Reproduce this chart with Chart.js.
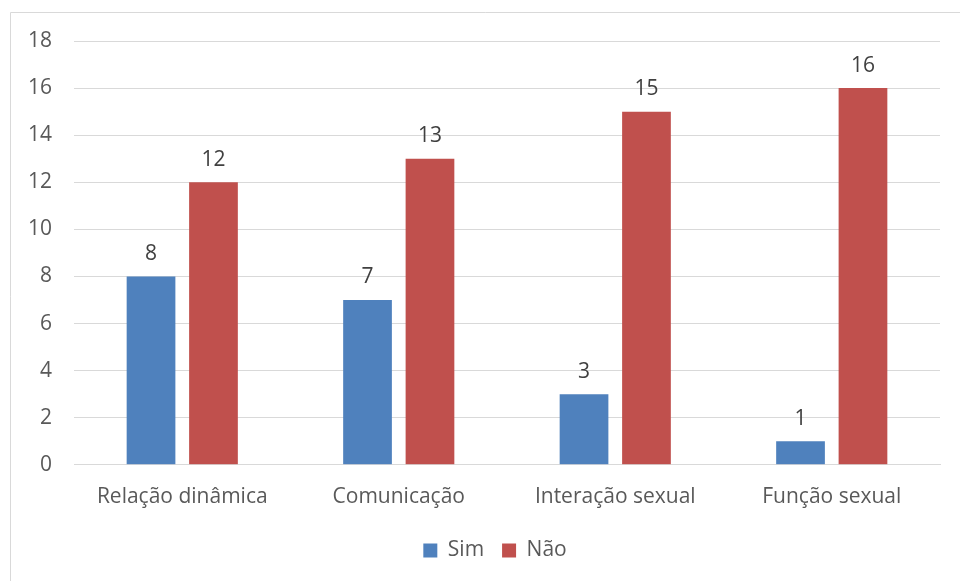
<!DOCTYPE html>
<html><head><meta charset="utf-8">
<script src="https://cdn.jsdelivr.net/npm/chart.js@4/dist/chart.umd.min.js"></script>
<style>html,body{margin:0;padding:0;background:#fff}#wrap{width:960px;height:581px;position:relative}</style>
</head><body><div id="wrap"><canvas id="c" width="960" height="581"></canvas></div>
<script>
const categories = ["Relação dinâmica", "Comunicação", "Interação sexual", "Função sexual"];
const simValues = [8, 7, 3, 1];
const naoValues = [12, 13, 15, 16];
const seriesNames = ["Sim", "Não"];
const yTicks = [0, 2, 4, 6, 8, 10, 12, 14, 16, 18];

const FONT = "'Open Sans', 'Liberation Sans', sans-serif";
const TXT = '#595959';
const FS = 21;

const borderPlugin = {
  id: 'frame',
  beforeDraw(chart) {
    const ctx = chart.ctx;
    ctx.save();
    ctx.strokeStyle = '#d9d9d9';
    ctx.lineWidth = 1;
    ctx.beginPath();
    ctx.moveTo(10.5, 581);
    ctx.lineTo(10.5, 12.5);
    ctx.lineTo(960, 12.5);
    ctx.stroke();
    ctx.restore();
  },
  afterLayout(chart) {
    if (chart.legend) { chart.legend.left += 15; chart.legend.right += 15; }
  }
};
const labelPlugin = {
  id: 'vals',
  afterDatasetsDraw(chart) {
    const ctx = chart.ctx;
    ctx.save();
    ctx.font = FS + 'px ' + FONT;
    ctx.fillStyle = '#404040';
    ctx.textAlign = 'center';
    ctx.textBaseline = 'bottom';
    chart.data.datasets.forEach((ds, i) => {
      chart.getDatasetMeta(i).data.forEach((bar, j) => {
        ctx.fillText(String(ds.data[j]), bar.x, bar.y - 12);
      });
    });
    ctx.restore();
  }
};

new Chart(document.getElementById('c'), {
  type: 'bar',
  data: {
    labels: categories,
    datasets: [
      { label: seriesNames[0], data: simValues, backgroundColor: '#4F81BD', categoryPercentage: 0.577, barPercentage: 0.78 },
      { label: seriesNames[1], data: naoValues, backgroundColor: '#C0504D', categoryPercentage: 0.577, barPercentage: 0.78 }
    ]
  },
  options: {
    responsive: false,
    animation: false,
    layout: { padding: { left: 20, right: 20, top: 41, bottom: 10 } },
    plugins: {
      legend: {
        position: 'bottom',
        labels: { font: { family: FONT, size: FS }, color: TXT, boxWidth: 14, boxHeight: 14, padding: 18 }
      },
      tooltip: { enabled: false }
    },
    scales: {
      x: {
        grid: { display: false },
        border: { color: '#d9d9d9' },
        ticks: { font: { family: FONT, size: FS }, color: TXT, padding: 12, maxRotation: 0 }
      },
      y: {
        min: 0, max: 18,
        afterBuildTicks(s) { s.ticks = yTicks.map(v => ({ value: v })); },
        afterFit(s) { s.width = 54; },
        grid: { color: '#d9d9d9', lineWidth: 1, drawTicks: false },
        border: { display: false },
        ticks: { font: { family: FONT, size: FS }, color: TXT, padding: 22 }
      }
    }
  },
  plugins: [borderPlugin, labelPlugin]
});
</script></body></html>
